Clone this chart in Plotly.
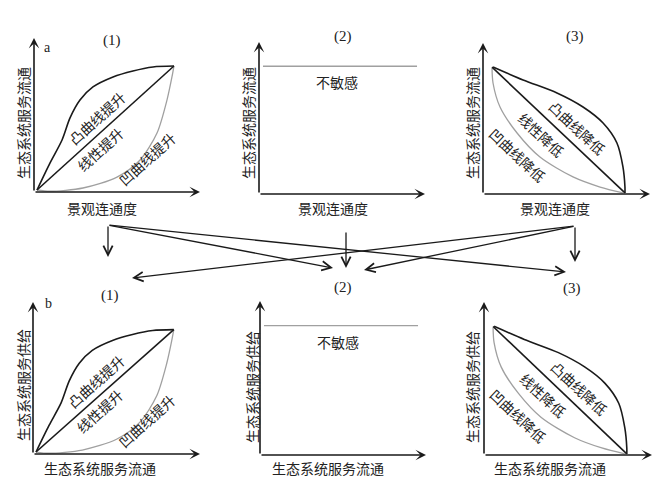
import plotly.graph_objects as go

W, H = 670, 481

# ---------------- data (axis units 0-100 in every panel) ----------------
rise_convex_x = [1.8, 9.6, 16.9, 21.7, 27.7, 35.5, 47.6, 59.6, 71.7, 84.3]
rise_convex_y = [1.3, 18.8, 33.8, 48.1, 59.7, 68.2, 74.7, 78.6, 81.2, 81.8]
rise_concave_x = [1.8, 9.6, 29.5, 50.0, 63.9, 74.1, 80.1, 83.1, 84.3]
rise_concave_y = [1.3, 0.5, 2.6, 9.7, 20.8, 38.3, 59.7, 74.7, 81.8]
rise_linear_x = [1.8, 84.3]
rise_linear_y = [1.3, 81.8]

flat_x = [2.4, 95.2]
flat_y = [84.0, 84.0]

fall_convex_x = [6.0, 24.0, 44.3, 59.9, 71.9, 80.2, 83.8, 85.0, 85.0]
fall_convex_y = [84.1, 75.5, 66.9, 57.6, 47.0, 33.8, 17.9, 4.6, 0.7]
fall_concave_x = [5.4, 6.0, 10.2, 20.4, 34.1, 53.9, 70.1, 83.8]
fall_concave_y = [83.4, 73.5, 57.6, 40.4, 24.5, 11.3, 4.6, 0.7]
fall_linear_x = [5.4, 85.0]
fall_linear_y = [84.0, 0.7]

rise_labels = ["凸曲线提升", "线性提升", "凹曲线提升"]
rise_label_pos = [(38, 48), (40, 28), (68, 21.5)]
fall_labels = ["凸曲线降低", "线性降低", "凹曲线降低"]
fall_label_pos = [(56.5, 43.5), (35, 39), (20.5, 25.5)]
flat_label = "不敏感"
flat_label_pos = (47, 73.5)

titles = ["(1)", "(2)", "(3)"]
row_tags = ["a", "b"]
ylab_top = "生态系统服务流通"
xlab_top = "景观连通度"
ylab_bot = "生态系统服务供给"
xlab_bot = "生态系统服务流通"

# ---------------- layout geometry (pixels) ----------------
# origin x, origin y, x-arrow tip, y-arrow tip
panels = [
    (34, 192, 200, 38), (259, 194, 425, 42), (483, 194, 650, 43),
    (33, 454, 200, 302), (260, 455, 426, 301), (484, 455, 652, 302),
]
title_px = [(112, 40), (343, 36), (575, 37), (110, 295), (343, 287), (572, 288)]
ylab_px = [(23, 123), (248, 123), (472, 123), (23, 385), (252, 387), (472, 387)]
xlab_px = [(102, 208), (333, 208), (555, 208), (100, 468), (328, 468), (550, 468)]
tag_px = [(47, 47), (48, 303)]
links = [  # (tail, tip) in pixels
    ((108, 225), (108, 257)),
    ((108, 225), (333, 268)),
    ((108, 225), (566, 272)),
    ((346, 231), (346, 268)),
    ((575, 226), (575, 262)),
    ((575, 226), (364, 270)),
    ((575, 226), (132, 278)),
]

BLACK = "#1a1a1a"
GREY = "#a0a0a0"
TXT = "#222222"
CJK = "Noto Sans CJK SC"
SERIF = "Liberation Serif"

def px(x):
    return x / W

def py(y):
    return 1 - y / H

fig = go.Figure()
ann = []
C = dict(xanchor="center", yanchor="middle")

for i, (ox, oy, tx, ty) in enumerate(panels):
    k = "" if i == 0 else str(i + 1)
    xa, ya = "x" + k, "y" + k
    fig.layout["xaxis" + k] = dict(domain=[px(ox), px(tx)], range=[0, 100], visible=False,
                                   fixedrange=True, anchor=ya)
    fig.layout["yaxis" + k] = dict(domain=[py(oy), py(ty)], range=[0, 100], visible=False,
                                   fixedrange=True, anchor=xa)
    kind = i % 3
    if kind == 0:
        curves = [(rise_concave_x, rise_concave_y, GREY, 1.3),
                  (rise_linear_x, rise_linear_y, BLACK, 1.6),
                  (rise_convex_x, rise_convex_y, BLACK, 1.6)]
        labels, lpos, ang = rise_labels, rise_label_pos, -42
    elif kind == 1:
        curves = [(flat_x, flat_y, GREY, 1.4)]
        labels, lpos, ang = [flat_label], [flat_label_pos], 0
    else:
        curves = [(fall_concave_x, fall_concave_y, GREY, 1.3),
                  (fall_linear_x, fall_linear_y, BLACK, 1.6),
                  (fall_convex_x, fall_convex_y, BLACK, 1.6)]
        labels, lpos, ang = fall_labels, fall_label_pos, 43
    for cx, cy, col, w in curves:
        fig.add_trace(go.Scatter(x=cx, y=cy, mode="lines", xaxis=xa, yaxis=ya,
                                 line=dict(color=col, width=w, shape="spline", smoothing=0.8),
                                 cliponaxis=False, hoverinfo="skip", showlegend=False))
    for t, (lx, ly) in zip(labels, lpos):
        ann.append(dict(x=lx, y=ly, xref=xa, yref=ya, text=t, showarrow=False,
                        textangle=ang, font=dict(family=CJK, size=14, color=TXT), **C))
    # axis arrows
    ann.append(dict(x=100, y=0, ax=0, ay=0, xref=xa, yref=ya, axref=xa, ayref=ya, text="",
                    showarrow=True, arrowhead=3, arrowsize=1.1, arrowwidth=1.6, arrowcolor=BLACK))
    ann.append(dict(x=0, y=100, ax=0, ay=0, xref=xa, yref=ya, axref=xa, ayref=ya, text="",
                    showarrow=True, arrowhead=3, arrowsize=1.1, arrowwidth=1.6, arrowcolor=BLACK))
    # titles and axis labels
    tx_, ty_ = title_px[i]
    ann.append(dict(x=px(tx_), y=py(ty_), xref="paper", yref="paper", text=titles[kind],
                    showarrow=False, font=dict(family=SERIF, size=15, color=TXT), **C))
    lx_, ly_ = ylab_px[i]
    ann.append(dict(x=px(lx_), y=py(ly_), xref="paper", yref="paper",
                    text=ylab_top if i < 3 else ylab_bot, textangle=-90,
                    showarrow=False, font=dict(family=CJK, size=14, color=TXT), **C))
    xx_, xy_ = xlab_px[i]
    ann.append(dict(x=px(xx_), y=py(xy_), xref="paper", yref="paper",
                    text=xlab_top if i < 3 else xlab_bot,
                    showarrow=False, font=dict(family=CJK, size=14, color=TXT), **C))

for t, (gx, gy) in zip(row_tags, tag_px):
    ann.append(dict(x=px(gx), y=py(gy), xref="paper", yref="paper", text=t, showarrow=False,
                    font=dict(family=SERIF, size=14, color=TXT), **C))

for (sx, sy), (ex, ey) in links:
    ann.append(dict(x=px(ex), y=py(ey), xref="paper", yref="paper", ax=sx - ex, ay=sy - ey,
                    axref="pixel", ayref="pixel", text="", showarrow=True, arrowhead=5,
                    arrowsize=1.4, arrowwidth=1.3, arrowcolor=BLACK, standoff=0))

fig.update_layout(width=W, height=H, margin=dict(l=0, r=0, t=0, b=0),
                  paper_bgcolor="white", plot_bgcolor="white", annotations=ann,
                  showlegend=False)
fig.write_html("out.html", config={"displayModeBar": False},
               post_script="document.body.style.margin='0px';")
